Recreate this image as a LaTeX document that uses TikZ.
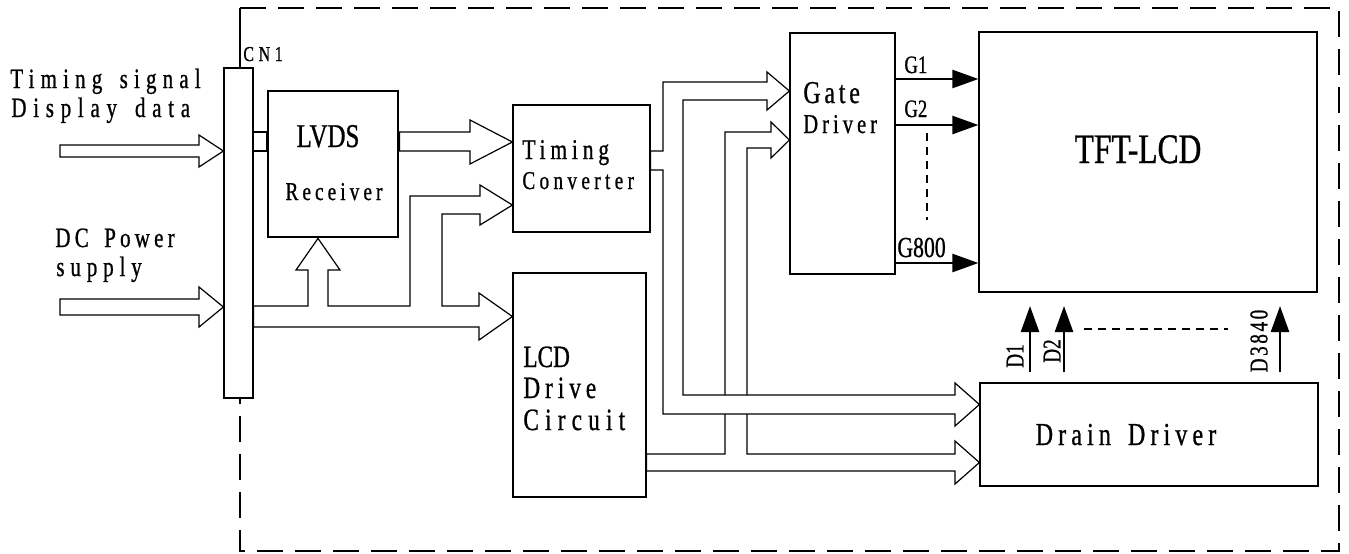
\documentclass[tikz,border=0pt]{standalone}
\usepackage{fontspec}
\setmainfont{Liberation Serif}
\newfontfamily\df[FakeStretch=0.75,FakeBold=0.8]{Liberation Serif}
\newcommand\fsz[1]{\fontsize{#1}{#1}\selectfont}
\newcommand\lsp[1]{\addfontfeatures{LetterSpace=#1}}
\newcommand\wsp{\hspace{3pt} }
\usetikzlibrary{arrows.meta,calc,fit}
\tikzset{
  box/.style={draw, line width=0.6pt, inner sep=0pt, fill=none},
  pipe/.style={draw, fill=white, line width=0.6pt, line join=miter},
  lbl/.style={inner sep=0pt, anchor=base west},
  sig/.style={line width=1.2pt, -{Triangle[length=13pt,width=9pt]}},
  dots/.style={line width=1.2pt, dash pattern=on 4pt off 3pt},
  frame/.style={line width=0.6pt, dash pattern=on 13pt off 6pt},
}
\begin{document}
\begin{tikzpicture}[x=0.5pt,y=-0.5pt]
\useasboundingbox (0,0) rectangle (1349,553);
% boxes
\node[box, fit={(224,68) (253,398)}] (cn1) {};
\node[box, line width=1.4pt, fit={(268,91) (398,237)}] (lvds) {};
\node[box, fit={(513,105) (650,232)}] (tc) {};
\node[box, fit={(513,273) (646,497)}] (lcdc) {};
\node[box, fit={(790,33) (895,274)}] (gate) {};
\node[box, fit={(979,32) (1317,292)}] (tft) {};
\node[box, fit={(980,383) (1318,486)}] (drain) {};
% frame
\draw[line width=0.6pt] (240,0 |- cn1.north) -- (240,8);
\draw[frame] (240,8) -- (1339,8) -- (1339,551) -- (240,551) -- (240,0 |- cn1.south);
% input arrows
\draw[pipe] (60,145) -- (199,145) -- (199,135) -- (cn1.west |- 0,151) -- (199,167) -- (199,157) -- (60,157) -- cycle;
\draw[pipe] (60,299) -- (199,299) -- (199,287) -- (cn1.west |- 0,307) -- (199,327) -- (199,315) -- (60,315) -- cycle;
% CN1 to LVDS
\draw[pipe] (cn1.east |- 0,132) -- (lvds.west |- 0,132) -- (lvds.west |- 0,151) -- (cn1.east |- 0,151) -- cycle;
% LVDS to timing converter
\draw[pipe] (lvds.east |- 0,132) -- (470,132) -- (470,120) -- (tc.west |- 0,142) -- (470,164) -- (470,151) -- (lvds.east |- 0,151) -- cycle;
% power bus
\draw[pipe] (cn1.east |- 0,306) -- (308,306) -- (308,270) -- (296,270) -- (318,0 |- lvds.south) -- (340,270) -- (328,270) -- (328,306) -- (410,306) -- (410,196) -- (480,196) -- (480,185) -- (tc.west |- 0,205) -- (480,225) -- (480,214) -- (442,214) -- (442,306) -- (479,306) -- (479,293) -- (lcdc.west |- 0,316.5) -- (479,340) -- (479,327) -- (cn1.east |- 0,327) -- cycle;
% LCD drive bus
\draw[pipe] (lcdc.east |- 0,454) -- (725,454) -- (725,132) -- (771,132) -- (771,122) -- (gate.west |- 0,140) -- (771,158) -- (771,148) -- (747,148) -- (747,454) -- (955,454) -- (955,441) -- (drain.west |- 0,462.5) -- (955,484) -- (955,471) -- (lcdc.east |- 0,471) -- cycle;
% timing converter bus
\draw[pipe] (tc.east |- 0,151) -- (663,151) -- (663,82) -- (767,82) -- (767,72) -- (gate.west |- 0,91) -- (767,110) -- (767,100) -- (683,100) -- (683,395) -- (955,395) -- (955,383) -- (drain.west |- 0,404.5) -- (955,426) -- (955,414) -- (663,414) -- (663,170) -- (tc.east |- 0,170) -- cycle;
% gate lines
\draw[sig] (gate.east |- 0,79) -- (tft.west |- 0,79);
\draw[sig] (gate.east |- 0,125) -- (tft.west |- 0,125);
\draw[sig] (gate.east |- 0,263) -- (tft.west |- 0,263);
\draw[dots] (927,133) -- (927,220);
% drain lines
\draw[sig] (1030,372) -- (1030,306);
\draw[sig] (1064,372) -- (1064,306);
\draw[sig] (1280,372) -- (1280,306);
\draw[dots] (1084,329) -- (1228,329);
% labels
\node[lbl, font=\df\fsz{14}\lsp{22}] (l1) at (10,88) {Timing\wsp signal};
\node[lbl, font=\df\fsz{14}\lsp{24}] (l2) at (11,117) {Display\wsp data};
\node[lbl, font=\df\fsz{14}\lsp{15}] (l3) at (55,247) {DC\wsp Power};
\node[lbl, font=\df\fsz{14}\lsp{21}] (l4) at (56,276) {supply};
\node[lbl, font=\df\fsz{10.6}\lsp{22}] (l5) at (243,61) {CN1};
\node[lbl, anchor=base, font=\df\fsz{16.6}] (l6) at (328,147) {LVDS};
\node[lbl, anchor=base, font=\df\fsz{12.8}\lsp{16}] (l7) at (334,200) {Receiver};
\node[lbl, font=\df\fsz{14.3}\lsp{17}] (l8) at (522,159) {Timing};
\node[lbl, font=\df\fsz{12.8}\lsp{17}] (l9) at (522,189) {Converter};
\node[lbl, font=\df\fsz{15.9}\lsp{12}] (l10) at (803,103) {Gate};
\node[lbl, font=\df\fsz{13.6}\lsp{15}] (l11) at (803,133) {Driver};
\node[lbl, font=\df\fsz{15.5}] (l12) at (523,367) {LCD};
\node[lbl, font=\df\fsz{15.5}\lsp{16}] (l13) at (523,398) {Drive};
\node[lbl, font=\df\fsz{15.5}\lsp{20}] (l14) at (523,430) {Circuit};
\node[lbl, anchor=base, font=\df\fsz{21}] (l15) at (1138,163) {TFT-LCD};
\node[lbl, anchor=base, font=\df\fsz{16}\lsp{16}] (l16) at (1126,445) {Drain\wsp Driver};
\node[lbl, font=\df\fsz{12.5}] (l17) at (904,73) {G1};
\node[lbl, font=\df\fsz{12.5}] (l18) at (904,117) {G2};
\node[lbl, font=\df\fsz{14.5}] (l19) at (897,257) {G800};
\node[inner sep=0pt, rotate=90, font=\df\fsz{12.8}] (l20) at (1015,356) {D1};
\node[inner sep=0pt, rotate=90, font=\df\fsz{12.8}] (l21) at (1052,351) {D2};
\node[inner sep=0pt, rotate=90, font=\df\fsz{12.8}\lsp{10}] (l22) at (1259,341) {D3840};
\end{tikzpicture}
\end{document}
